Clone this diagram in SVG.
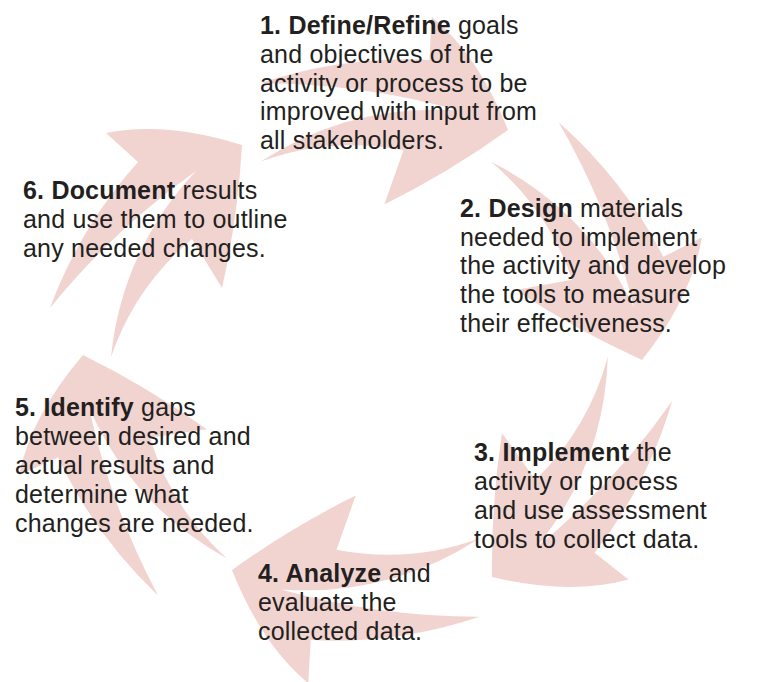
<svg xmlns="http://www.w3.org/2000/svg" xmlns:xlink="http://www.w3.org/1999/xlink" width="765" height="682" viewBox="0 0 765 682">
  <style>
    .swoosh { fill: #f1d4d0; stroke: none; }
    .label { font-family: "Liberation Sans", Arial, Helvetica, sans-serif; font-size: 25px; letter-spacing: 0.2px; fill: #231f20; }
    .label .key { font-weight: bold; }
  </style>
  <defs>
    <!-- Curved arrow with a split tail; origin is the arrow tip -->
    <path id="swoosh" class="swoosh"
          d="M0,0 Q-76,-24 -136,-12 L-104,17 Q-162,82 -192,163 Q-129,85 -46,26 Q-120,105 -131,212 Q-107,142 -50,94 L-20,143 Q-4,72 0,0 Z"/>
  </defs>
  <rect width="765" height="682" fill="#ffffff"/>

  <!-- Cycle arrows -->
  <g id="connectors">
    <use id="arrow-6-1" href="#swoosh" xlink:href="#swoosh" transform="translate(242,145) rotate(0)"/>
    <use id="arrow-1-2" href="#swoosh" xlink:href="#swoosh" transform="translate(508,130) rotate(51)"/>
    <use id="arrow-2-3" href="#swoosh" xlink:href="#swoosh" transform="translate(642,360) rotate(111)"/>
    <use id="arrow-3-4" href="#swoosh" xlink:href="#swoosh" transform="translate(492,577) rotate(176)"/>
    <use id="arrow-4-5" href="#swoosh" xlink:href="#swoosh" transform="translate(232,570) rotate(231)"/>
    <use id="arrow-5-6" href="#swoosh" xlink:href="#swoosh" transform="translate(83,355) rotate(293)"/>
  </g>

  <!-- Step 1 -->
  <g id="step-1">
    <text class="label" x="260" y="33.5"><tspan class="key">1. Define/Refine</tspan> goals</text>
    <text class="label" x="260" y="62.5">and objectives of the</text>
    <text class="label" x="260" y="91.5">activity or process to be</text>
    <text class="label" x="260" y="120">improved with input from</text>
    <text class="label" x="260" y="148.5">all stakeholders.</text>
  </g>

  <!-- Step 2 -->
  <g id="step-2">
    <text class="label" x="460" y="217"><tspan class="key">2. Design</tspan> materials</text>
    <text class="label" x="460" y="245.7">needed to implement</text>
    <text class="label" x="460" y="274.4">the activity and develop</text>
    <text class="label" x="460" y="303">the tools to measure</text>
    <text class="label" x="460" y="331.7">their effectiveness.</text>
  </g>

  <!-- Step 3 -->
  <g id="step-3">
    <text class="label" x="474" y="461"><tspan class="key">3. Implement</tspan> the</text>
    <text class="label" x="474" y="490">activity or process</text>
    <text class="label" x="474" y="519">and use assessment</text>
    <text class="label" x="474" y="548">tools to collect data.</text>
  </g>

  <!-- Step 4 -->
  <g id="step-4">
    <text class="label" x="258" y="582"><tspan class="key">4. Analyze</tspan> and</text>
    <text class="label" x="258" y="611">evaluate the</text>
    <text class="label" x="258" y="640">collected data.</text>
  </g>

  <!-- Step 5 -->
  <g id="step-5">
    <text class="label" x="15" y="416"><tspan class="key">5. Identify</tspan> gaps</text>
    <text class="label" x="15" y="445">between desired and</text>
    <text class="label" x="15" y="474">actual results and</text>
    <text class="label" x="15" y="503">determine what</text>
    <text class="label" x="15" y="532">changes are needed.</text>
  </g>

  <!-- Step 6 -->
  <g id="step-6">
    <text class="label" x="23" y="198.5"><tspan class="key">6. Document</tspan> results</text>
    <text class="label" x="23" y="227.5">and use them to outline</text>
    <text class="label" x="23" y="256.5">any needed changes.</text>
  </g>
</svg>
